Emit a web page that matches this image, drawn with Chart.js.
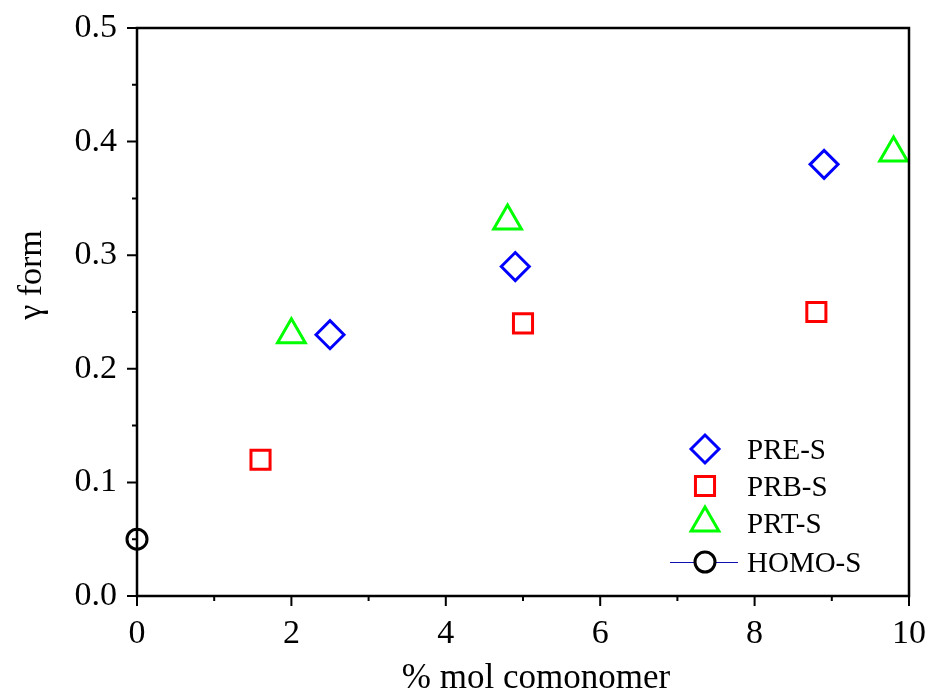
<!DOCTYPE html>
<html>
<head>
<meta charset="utf-8">
<script src="https://cdn.jsdelivr.net/npm/chart.js@4/dist/chart.umd.min.js"></script>
<style>
  body { margin: 0; background: #fff; }
</style>
</head>
<body>
<canvas id="gammaChart" width="933" height="697"></canvas>
<script>
// data (% mol comonomer vs gamma form fraction)
const preX = [2.5, 4.9, 8.9];
const preY = [0.23, 0.29, 0.38];
const prbX = [1.6, 5.0, 8.8];
const prbY = [0.12, 0.24, 0.25];
const prtX = [2.0, 4.8, 9.8];
const prtY = [0.23, 0.33, 0.39];
const homoX = [0];
const homoY = [0.05];

const xTicks = [0, 2, 4, 6, 8, 10];
const yTicks = [0.0, 0.1, 0.2, 0.3, 0.4, 0.5];

function pts(xs, ys) {
  return xs.map((x, i) => ({ x: x, y: ys[i] }));
}

const serif = "'Liberation Serif', 'Times New Roman', serif";

// box frame + outer ticks (major and minor) + axis titles
const frame = {
  id: "frame",
  afterDraw(chart) {
    const { ctx, chartArea: a, scales } = chart;
    ctx.save();
    ctx.strokeStyle = "#000";
    ctx.lineWidth = 2.5;
    ctx.strokeRect(a.left, a.top, a.right - a.left, a.bottom - a.top);
    ctx.lineWidth = 2;
    ctx.beginPath();
    for (let v = 0; v <= 10; v++) {
      const px = scales.x.getPixelForValue(v);
      const len = v % 2 === 0 ? 10 : 5;
      ctx.moveTo(px, a.bottom);
      ctx.lineTo(px, a.bottom + len);
    }
    for (let k = 0; k <= 10; k++) {
      const py = scales.y.getPixelForValue(k * 0.05);
      const len = k % 2 === 0 ? 10 : 5;
      ctx.moveTo(a.left, py);
      ctx.lineTo(a.left - len, py);
    }
    ctx.stroke();

    ctx.fillStyle = "#000";
    ctx.textAlign = "center";
    ctx.textBaseline = "alphabetic";
    ctx.font = "35px " + serif;
    ctx.fillText("% mol comonomer", 536, 688);

    ctx.translate(41, 275);
    ctx.rotate(-Math.PI / 2);
    ctx.font = "34px " + serif;
    ctx.fillText("γ form", 0, 0);
    ctx.restore();
  }
};

// legend inside the plot, bottom right
const boxLegend = {
  id: "boxLegend",
  afterDraw(chart) {
    const { ctx } = chart;
    const mx = 705, tx = 747;
    const rows = [449, 486, 523, 562];
    ctx.save();
    chart.data.datasets.forEach((ds, i) => {
      const y = rows[i];
      if (ds.legendLine) {
        ctx.strokeStyle = ds.legendLine;
        ctx.lineWidth = 1;
        ctx.beginPath();
        ctx.moveTo(670, y + 0.5);
        ctx.lineTo(738, y + 0.5);
        ctx.stroke();
        ctx.fillStyle = "#fff";
        ctx.beginPath();
        ctx.arc(mx, y, ds.pointRadius, 0, Math.PI * 2);
        ctx.fill();
      }
      ctx.strokeStyle = ds.borderColor;
      ctx.fillStyle = "rgba(0,0,0,0)";
      ctx.lineWidth = ds.borderWidth;
      Chart.helpers.drawPoint(ctx, {
        pointStyle: ds.pointStyle,
        radius: ds.legendRadius,
        borderWidth: ds.borderWidth,
        rotation: 0
      }, mx, y);
      ctx.fillStyle = "#000";
      ctx.font = "29px " + serif;
      ctx.textAlign = "left";
      ctx.textBaseline = "alphabetic";
      ctx.fillText(ds.label, tx, y + 10);
    });
    ctx.restore();
  }
};

new Chart(document.getElementById("gammaChart"), {
  type: "scatter",
  data: {
    datasets: [
      {
        label: "PRE-S",
        data: pts(preX, preY),
        pointStyle: "rectRot",
        pointRadius: 14,
        legendRadius: 14,
        borderColor: "#0000ff",
        backgroundColor: "rgba(0,0,0,0)",
        borderWidth: 3,
        clip: false
      },
      {
        label: "PRB-S",
        data: pts(prbX, prbY),
        pointStyle: "rect",
        pointRadius: 13.5,
        legendRadius: 13.5,
        borderColor: "#ff0000",
        backgroundColor: "rgba(0,0,0,0)",
        borderWidth: 3,
        clip: false
      },
      {
        label: "PRT-S",
        data: pts(prtX, prtY),
        pointStyle: "triangle",
        pointRadius: 16,
        legendRadius: 16,
        borderColor: "#00ff00",
        backgroundColor: "rgba(0,0,0,0)",
        borderWidth: 3,
        clip: false
      },
      {
        label: "HOMO-S",
        data: pts(homoX, homoY),
        pointStyle: "circle",
        pointRadius: 10,
        legendRadius: 10,
        legendLine: "#1010b0",
        borderColor: "#000000",
        backgroundColor: "#ffffff",
        borderWidth: 3,
        clip: false
      }
    ]
  },
  options: {
    responsive: false,
    animation: false,
    events: [],
    layout: { padding: { left: 0, right: 24, top: 28, bottom: 0 } },
    plugins: {
      legend: { display: false },
      tooltip: { enabled: false }
    },
    scales: {
      x: {
        type: "linear",
        min: 0,
        max: 10,
        afterBuildTicks: (s) => { s.ticks = xTicks.map((v) => ({ value: v })); },
        afterFit: (s) => { s.height = 101; s.paddingLeft = 0; s.paddingRight = 0; },
        grid: { drawOnChartArea: false, drawTicks: false },
        border: { display: false },
        ticks: {
          padding: 18,
          color: "#000",
          font: { family: serif, size: 34 }
        }
      },
      y: {
        type: "linear",
        min: 0,
        max: 0.5,
        afterBuildTicks: (s) => { s.ticks = yTicks.map((v) => ({ value: v })); },
        afterFit: (s) => { s.width = 137; s.paddingTop = 0; s.paddingBottom = 0; },
        grid: { drawOnChartArea: false, drawTicks: false },
        border: { display: false },
        ticks: {
          padding: 20,
          color: "#000",
          font: { family: serif, size: 34 },
          callback: (v) => Number(v).toFixed(1)
        }
      }
    }
  },
  plugins: [frame, boxLegend]
});
</script>
</body>
</html>
